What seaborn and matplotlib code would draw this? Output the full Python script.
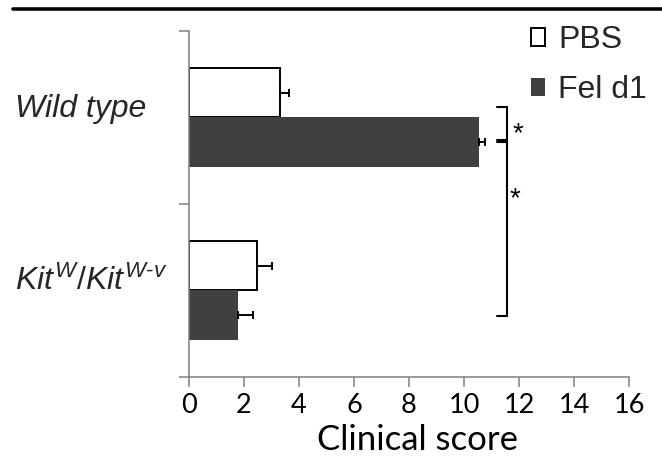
import matplotlib
matplotlib.use('Agg')
import matplotlib.pyplot as plt
from matplotlib.lines import Line2D
import numpy as np
import pandas as pd
import seaborn as sns

# Data
genotypes = ['Wild type', 'Kitw/Kitw-v']
genotype_labels = ['Wild type', '$\\mathit{Kit}^{\\mathit{W}}\\mathit{/Kit}^{\\mathit{W\u2010v}}$']
treatments = ['PBS', 'Fel d1']
pbs_score = [3.32, 2.46]
pbs_sem = [0.31, 0.55]
fel_score = [10.55, 1.79]
fel_sem = [0.22, 0.52]
x_ticks = [0, 2, 4, 6, 8, 10, 12, 14, 16]

# significance brackets (x, y_top, y_bottom) and stars (x, y) in data units
brackets = [(11.56, -0.061, 0.131), (11.56, 0.146, 1.150)]
stars = [(11.96, 0.138), (11.85, 0.515)]

df = pd.DataFrame({
    'genotype': genotypes * 2,
    'treatment': [treatments[0]] * 2 + [treatments[1]] * 2,
    'score': pbs_score + fel_score,
})

sns.set_theme(style='white')
plt.rcParams['font.family'] = ['Liberation Sans', 'DejaVu Sans']
plt.rcParams['mathtext.fontset'] = 'custom'
plt.rcParams['mathtext.rm'] = 'Liberation Sans'
plt.rcParams['mathtext.it'] = 'Liberation Sans:italic'

fig = plt.figure(figsize=(6.62, 4.57), dpi=100)
ax = fig.add_axes([189 / 662, 1 - 376.7 / 457, 440 / 662, 346 / 457])

sns.barplot(data=df, x='score', y='genotype', hue='treatment', orient='h',
            palette={'PBS': 'white', 'Fel d1': '#404040'}, width=0.57,
            errorbar=None, ax=ax)

# edges and error bars
for cont, sem, ec, lw in zip(ax.containers, [pbs_sem, fel_sem],
                             ['black', '#404040'], [1.4, 0]):
    for p in cont:
        p.set_edgecolor(ec)
        p.set_linewidth(lw)
    ys = [p.get_y() + p.get_height() / 2 for p in cont]
    xs = [p.get_width() for p in cont]
    ax.errorbar(xs, ys, xerr=[np.zeros(len(sem)), sem], fmt='none',
                ecolor='black', elinewidth=1.4, capsize=3, capthick=1.4)

ax.legend(ax.containers, treatments, loc='upper left',
          bbox_to_anchor=(531 / 662, 1 - 25 / 457), bbox_transform=fig.transFigure,
          frameon=False, fontsize=23, borderpad=0, borderaxespad=0,
          handlelength=0.45, handleheight=0.5, handletextpad=0.4,
          labelspacing=0.64)

# brackets
for bx, y0, y1 in brackets:
    ax.plot([bx - 0.36, bx, bx, bx - 0.36], [y0, y0, y1, y1], color='black',
            lw=1.5, clip_on=False, solid_joinstyle='miter')
for sx, sy in stars:
    ax.text(sx, sy, '*', ha='center', va='baseline', fontsize=20, color='black')

# axes styling
ax.set_xlim(0, 16)
ax.set_ylim(1.5, -0.5)
ax.set_xticks(x_ticks)
ax.set_xticklabels([str(t) for t in x_ticks], fontfamily='Lato', fontsize=19.5)
ax.set_yticks([0, 1])
ax.set_yticklabels(genotype_labels, fontsize=23)
ax.set_yticks([-0.5, 0.5, 1.5], minor=True)
for lab in ax.get_yticklabels():
    lab.set_ha('left')
    lab.set_va('baseline')
    lab.set_fontstyle('italic')
ax.tick_params(axis='y', which='major', length=0, pad=125)
ax.tick_params(axis='y', which='minor', length=7.5, width=1.1, color='#808080', left=True)
ax.tick_params(axis='x', length=7.5, width=1.1, color='#808080', bottom=True, pad=4,
               labelcolor='black')

for s in ['top', 'right']:
    ax.spines[s].set_visible(False)
for s in ['left', 'bottom']:
    ax.spines[s].set_color('#808080')
    ax.spines[s].set_linewidth(1.1)

ax.set_ylabel('')
ax.set_xlabel('Clinical score', fontfamily='Lato', fontsize=25, color='black')
ax.xaxis.set_label_coords(0.52, -0.138)

# thick rule at top of figure
fig.add_artist(Line2D([13 / 662, 1], [1 - 9 / 457, 1 - 9 / 457],
                      transform=fig.transFigure, color='black', lw=2.6))

fig.savefig('out.png', dpi=100)
